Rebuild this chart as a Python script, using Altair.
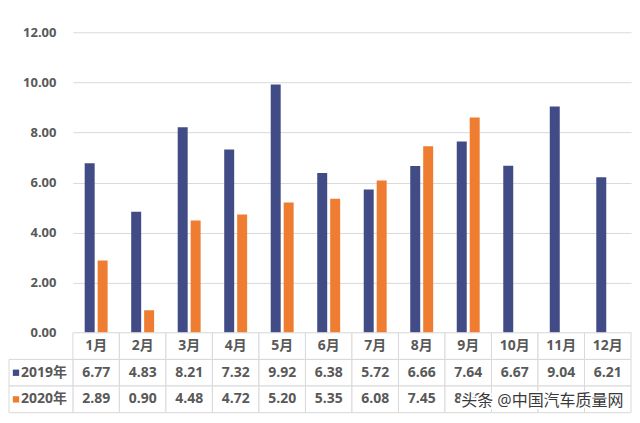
import altair as alt
import pandas as pd

months = ["1月", "2月", "3月", "4月", "5月", "6月", "7月", "8月", "9月", "10月", "11月", "12月"]
years = ["2019年", "2020年"]
v2019 = [6.77, 4.83, 8.21, 7.32, 9.92, 6.38, 5.72, 6.66, 7.64, 6.67, 9.04, 6.21]
v2020 = [2.89, 0.90, 4.48, 4.72, 5.20, 5.35, 6.08, 7.45, 8.60, None, None, None]
y_ticks = [0, 2, 4, 6, 8, 10, 12]
colors = ["#414B86", "#EE7D31"]
watermark = "头条 @中国汽车质量网"

FONT = "Open Sans, Noto Sans CJK SC, sans-serif"
TXT = "#595959"
GRID = "#d9d9d9"

rows = []
for m, a, b in zip(months, v2019, v2020):
    rows.append({"month": m, "year": years[0], "value": a})
    if b is not None:
        rows.append({"month": m, "year": years[1], "value": b})
bars_df = pd.DataFrame(rows)

color_scale = alt.Scale(domain=years, range=colors)

bars = alt.Chart(bars_df).mark_bar().encode(
    x=alt.X("month:N", sort=months,
            scale=alt.Scale(domain=months, paddingInner=0.507, paddingOuter=0.2535),
            axis=None),
    xOffset=alt.XOffset("year:N", scale=alt.Scale(domain=years, paddingInner=0.23, paddingOuter=0)),
    y=alt.Y("value:Q", scale=alt.Scale(domain=[0, 12]),
            axis=alt.Axis(values=y_ticks, format=".2f", title=None, domain=False, ticks=False,
                          labelPadding=17, labelFontSize=13, labelFontWeight="bold",
                          labelColor=TXT, labelFont=FONT, gridColor=GRID)),
    color=alt.Color("year:N", scale=color_scale, legend=None),
).properties(width=559, height=301)

row_names = ["hdr"] + years
trows = []
for i, m in enumerate(months):
    trows.append({"month": m, "row": "hdr", "text": m})
    trows.append({"month": m, "row": years[0], "text": f"{v2019[i]:.2f}"})
    if v2020[i] is not None:
        trows.append({"month": m, "row": years[1], "text": f"{v2020[i]:.2f}"})
    else:
        trows.append({"month": m, "row": years[1], "text": ""})
table_df = pd.DataFrame(trows)

xs = alt.X("month:N", sort=months, scale=alt.Scale(domain=months, paddingInner=0, paddingOuter=0), axis=None)
ys = alt.Y("row:N", scale=alt.Scale(domain=row_names, paddingInner=0, paddingOuter=0), axis=None)

cells = alt.Chart(table_df).mark_rect(fill="white", stroke=GRID, strokeWidth=1).encode(x=xs, y=ys)
cell_text = alt.Chart(table_df).mark_text(font=FONT, fontSize=14, fontWeight="bold", color=TXT).encode(
    x=xs, y=ys, text="text:N")

left_df = pd.DataFrame({"row": years})
left_cells = alt.Chart(left_df).mark_rect(fill="white", stroke=GRID, strokeWidth=1).encode(
    x=alt.value(-64), x2=alt.value(0), y=ys)
left_sq = alt.Chart(left_df).mark_point(shape="square", filled=True, size=40, opacity=1).encode(
    x=alt.value(-57), y=ys, color=alt.Color("row:N", scale=color_scale, legend=None))
left_txt = alt.Chart(left_df).mark_text(font=FONT, fontSize=14, fontWeight="bold", color=TXT, align="left").encode(
    x=alt.value(-52), y=ys, text="row:N")

wm_df = pd.DataFrame({"t": [watermark]})
wm_halo = alt.Chart(wm_df).mark_text(font=FONT, fontSize=16, color="white", stroke="white", strokeWidth=4,
                                     align="left").encode(x=alt.value(389), y=alt.value(68), text="t:N")
wm = alt.Chart(wm_df).mark_text(font=FONT, fontSize=16, color="#3a3a3a", align="left").encode(
    x=alt.value(389), y=alt.value(68), text="t:N")

table = alt.layer(cells, cell_text, left_cells, left_sq, left_txt, wm_halo, wm).properties(width=559, height=80)

chart = alt.vconcat(bars, table, spacing=0, bounds="flush").resolve_scale(
    x="independent", y="independent", color="shared"
).properties(
    padding={"left": 0, "top": 18, "right": 0, "bottom": 0},
    background="white",
).configure_view(strokeWidth=0)

chart.save("out.html", embed_options={"renderer": "svg", "actions": False})
